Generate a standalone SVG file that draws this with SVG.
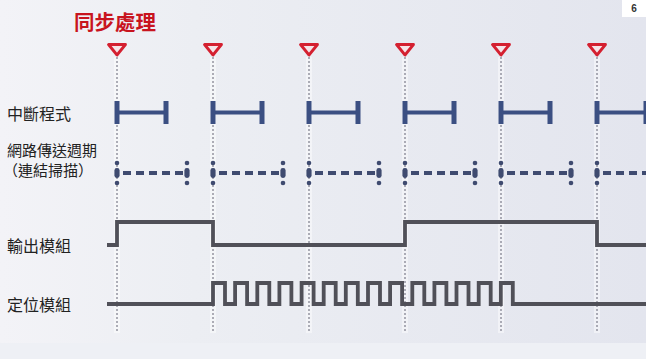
<svg xmlns="http://www.w3.org/2000/svg" width="646" height="359" viewBox="0 0 646 359">
  <defs>
    <linearGradient id="bg" x1="0" y1="0" x2="1" y2="0">
      <stop offset="0" stop-color="#f3f3f7"/>
      <stop offset="0.3" stop-color="#eceef3"/>
      <stop offset="1" stop-color="#e3e5ee"/>
    </linearGradient>
    <g id="tick">
      <circle cx="0" cy="163" r="2.3"/>
      <rect x="-2.6" y="168" width="5.2" height="10" rx="2.4"/>
      <circle cx="0" cy="183" r="2.3"/>
    </g>
  </defs>
  <style>
    .lbl { font-family: "Noto Sans CJK TC", "Noto Sans CJK SC", sans-serif; font-size: 16px; fill: #222; }
    .lbl2 { font-family: "Noto Sans CJK TC", "Noto Sans CJK SC", sans-serif; font-size: 15px; fill: #222; }
    .title { font-family: "Noto Sans CJK TC", "Noto Sans CJK SC", sans-serif; font-size: 20.5px; font-weight: bold; fill: #c8141e; }
    .glow { stroke: #ffffff; stroke-opacity: 0.45; stroke-width: 6; fill: none; }
    .sync { stroke: #7c7c8a; stroke-width: 1.2; stroke-dasharray: 2 2; fill: none; }
    .tri { fill: #f6e4e8; stroke: #d42030; stroke-width: 2.8; stroke-linejoin: round; }
    .irq { stroke: #3b4f82; fill: none; }
    .irq .h { stroke-width: 4; }
    .irq .v { stroke-width: 5; }
    .net { fill: #3f4b70; }
    .netdash { stroke: #3f4b70; stroke-width: 4; stroke-dasharray: 8 5; fill: none; }
    .sig { stroke: #505058; stroke-width: 3.8; fill: none; stroke-linejoin: miter; }
  </style>

  <rect x="0" y="0" width="646" height="359" fill="url(#bg)"/>
  <rect x="0" y="343" width="646" height="16" fill="#eef0f5"/>

  <g id="page-number">
    <rect x="622" y="0" width="24" height="17" fill="#ffffff"/>
    <text x="634" y="12" text-anchor="middle" font-family="Liberation Sans, sans-serif" font-size="10" font-weight="bold" fill="#333">6</text>
  </g>

  <g id="title">
    <text class="title" x="74" y="30">同步處理</text>
  </g>

  <g id="labels">
    <text class="lbl" x="7" y="120">中斷程式</text>
    <text class="lbl2" x="7" y="156">網路傳送週期</text>
    <text class="lbl2" x="3" y="176">（連結掃描）</text>
    <text class="lbl" x="7" y="252">輸出模組</text>
    <text class="lbl" x="7" y="311">定位模組</text>
  </g>

  <g id="connectors">
    <g id="sync-lines">
      <path class="glow" d="M117 57V333M213 57V333M309 57V333M405 57V333M501 57V333M597 57V333"/>
      <path class="sync" d="M117 57V333M213 57V333M309 57V333M405 57V333M501 57V333M597 57V333"/>
    </g>
  </g>

  <g id="sync-markers">
    <path class="tri" d="M108.5 44.5H125.5L117 55Z"/>
    <path class="tri" d="M204.5 44.5H221.5L213 55Z"/>
    <path class="tri" d="M300.5 44.5H317.5L309 55Z"/>
    <path class="tri" d="M396.5 44.5H413.5L405 55Z"/>
    <path class="tri" d="M492.5 44.5H509.5L501 55Z"/>
    <path class="tri" d="M588.5 44.5H605.5L597 55Z"/>
  </g>

  <g id="interrupt" class="irq">
    <path class="h" d="M117 112.5H166M213 112.5H262M309 112.5H358M405 112.5H454M501 112.5H550M597 112.5H646"/>
    <path class="v" d="M117 101V124M166 101V124M213 101V124M262 101V124M309 101V124M358 101V124M405 101V124M454 101V124M501 101V124M550 101V124M597 101V124M646 101V124"/>
  </g>

  <g id="network-cycle">
    <g class="net">
      <use href="#tick" x="117"/><use href="#tick" x="187"/>
      <use href="#tick" x="213"/><use href="#tick" x="283"/>
      <use href="#tick" x="309"/><use href="#tick" x="379"/>
      <use href="#tick" x="405"/><use href="#tick" x="475"/>
      <use href="#tick" x="501"/><use href="#tick" x="571"/>
      <use href="#tick" x="597"/>
    </g>
    <path class="netdash" d="M123 173H183M219 173H279M315 173H375M411 173H471M507 173H567M603 173H646"/>
  </g>

  <g id="output-module">
    <path class="sig" d="M107 245H117V222H213V245H405V222H597V245H646"/>
  </g>

  <g id="position-module">
    <path class="sig" d="M107 304H213V283H225V304H235.1V283H247.1V304H257.3V283H269.3V304H279.4V283H291.4V304H301.6V283H313.6V304H323.7V283H335.7V304H345.8V283H357.8V304H368V283H380V304H390.1V283H402.1V304H412.3V283H424.3V304H434.4V283H446.4V304H456.5V283H468.5V304H478.7V283H490.7V304H500.8V283H512.8V304H646"/>
  </g>
</svg>
